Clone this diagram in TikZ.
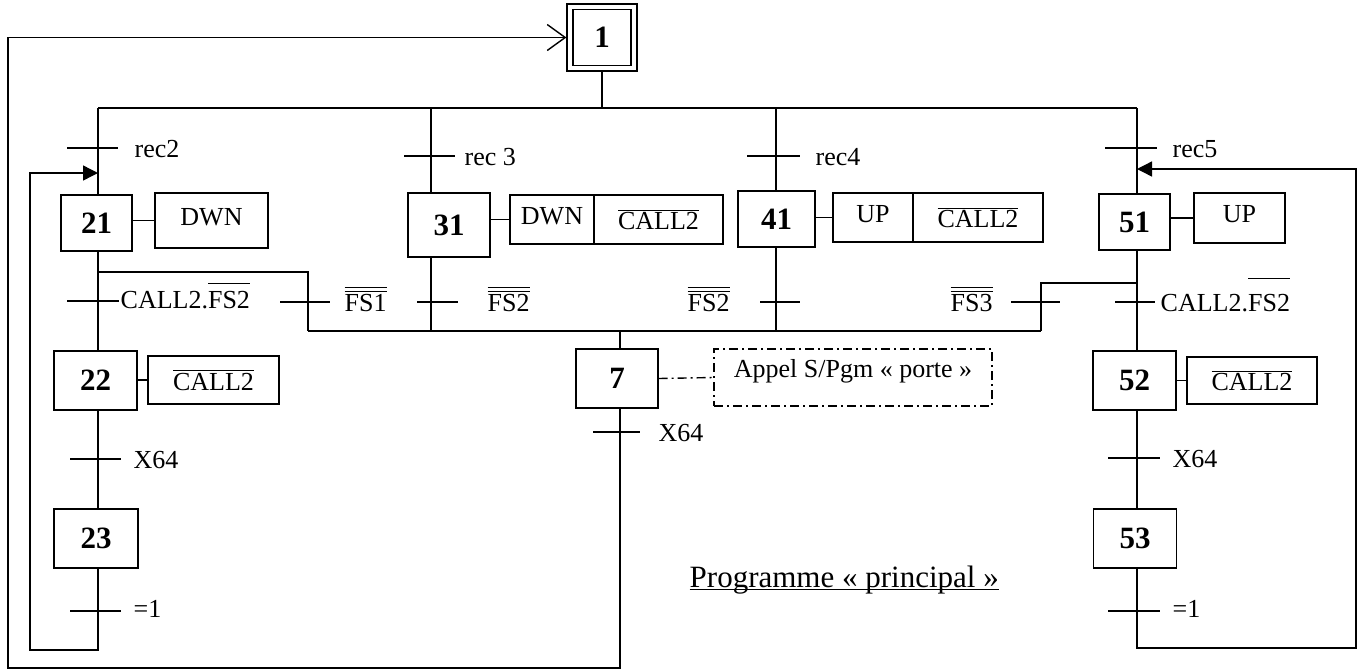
\documentclass[tikz,border=0pt]{standalone}
\usepackage{fontspec}
\setmainfont{Liberation Serif}
\usetikzlibrary{arrows.meta}

\begin{document}
\begin{tikzpicture}[x=0.5pt,y=-0.5pt,line width=0.7pt,
    font=\fontsize{13}{15}\selectfont,
    etape/.style={draw,font=\fontsize{15.5}{18}\selectfont\bfseries,inner sep=0pt},
    action/.style={draw,inner sep=0pt},
    actup/.style={action,text depth=4pt},
    lbl/.style={anchor=base west,inner sep=0pt},
    backarrow/.style={-{Straight Barb[length=9pt,width=13pt]}},
    looparrow/.style={-{Triangle[length=7.5pt,width=7.5pt]}},
    dashdot/.style={dash pattern=on 4.5pt off 2pt on 1pt off 2pt}]

  \useasboundingbox (0,0) rectangle (1362,670);

  % --- initial step ---
  \node[etape,double,double distance=2pt,line width=0.8pt,outer sep=1.8pt,
        minimum width=32pt,minimum height=30.75pt] (s1) at (602,37.5) {1};

  % --- steps ---
  \node[etape,minimum width=35.5pt,minimum height=28pt]   (s21) at (96.5,223)    {21};
  \node[etape,minimum width=41.5pt,minimum height=29.5pt] (s22) at (95.5,380.5)  {22};
  \node[etape,minimum width=42pt,minimum height=29.5pt]   (s23) at (96,538.5)    {23};
  \node[etape,minimum width=41pt,minimum height=32pt]     (s31) at (449,225)     {31};
  \node[etape,minimum width=38.5pt,minimum height=28pt]   (s41) at (776.5,219)   {41};
  \node[etape,minimum width=35.5pt,minimum height=28pt]   (s51) at (1134.5,222)  {51};
  \node[etape,minimum width=41.5pt,minimum height=29.5pt] (s52) at (1134.5,380.5){52};
  \node[etape,minimum width=41.5pt,minimum height=29.5pt] (s53) at (1135,538.5)  {53};
  \node[etape,minimum width=41pt,minimum height=29.5pt]   (s7)  at (617,378.5)   {7};

  % --- actions ---
  \node[actup,minimum width=56.5pt,minimum height=27.5pt] (a21) at (211.5,220.5) {DWN};
  \node[actup,minimum width=42pt,minimum height=24.5pt]   (a31) at (552,219.5)   {DWN};
  \node[action,minimum width=64.5pt,minimum height=24.5pt] (a31b) at (658.5,219.5)
        {$\overline{\mbox{CALL2}}$};
  \node[actup,minimum width=40pt,minimum height=24.5pt]   (a41) at (873,217.5)   {UP};
  \node[action,minimum width=65pt,minimum height=24.5pt]  (a41b) at (978,217.5)
        {$\overline{\mbox{CALL2}}$};
  \node[actup,minimum width=45.5pt,minimum height=25pt]   (a51) at (1239.5,218)  {UP};
  \node[action,minimum width=65.5pt,minimum height=24pt]  (a22) at (213.5,380)
        {$\overline{\mbox{CALL2}}$};
  \node[action,minimum width=65pt,minimum height=23.5pt]  (a52) at (1252,380.5)
        {$\overline{\mbox{CALL2}}$};
  \node[action,dashdot,minimum width=139pt,minimum height=28.5pt,text depth=9pt]
        (porte) at (853,377.5) {Appel S/Pgm «~porte~»};

  \draw (s21.east |- a21.west) -- (a21.west);
  \draw (s31.east |- a31.west) -- (a31.west);
  \draw (s41.east |- a41.west) -- (a41.west);
  \draw (s51.east |- a51.west) -- (a51.west);
  \draw (s22.east |- a22.west) -- (a22.west);
  \draw (s52.east |- a52.west) -- (a52.west);
  \draw[dashdot] (s7.east) -- (porte.west);

  % --- divergence / convergence lines ---
  \coordinate (b1) at (98,108);
  \coordinate (b2) at (431,108);
  \coordinate (b3) at (776,108);
  \coordinate (b4) at (1137,108);
  \coordinate (lo1) at (308,331);
  \coordinate (lo2) at (431,331);
  \coordinate (lo3) at (776,331);
  \coordinate (lo4) at (1041,331);
  \coordinate (lo7) at (620,331);
  \coordinate (c21) at (98,272);
  \coordinate (c51) at (1137,283);

  \draw (b1) -- (b4);
  \draw (s1.south) -- (s1.south |- b1);
  \draw (lo1) -- (lo4);
  \draw (c21) -| (lo1);
  \draw (c51) -| (lo4);
  \draw (lo7) -- (lo7 |- s7.north);

  % branch 2x
  \draw (b1) -- (b1 |- s21.north);
  \draw (b1 |- s21.south) -- (b1 |- s22.north);
  \draw (b1 |- s22.south) -- (b1 |- s23.north);
  % branch 3x
  \draw (b2) -- (b2 |- s31.north);
  \draw (b2 |- s31.south) -- (lo2);
  % branch 4x
  \draw (b3) -- (b3 |- s41.north);
  \draw (b3 |- s41.south) -- (lo3);
  % branch 5x
  \draw (b4) -- (b4 |- s51.north);
  \draw (b4 |- s51.south) -- (b4 |- s52.north);
  \draw (b4 |- s52.south) -- (b4 |- s53.north);

  % --- loops ---
  \coordinate (lp21) at (30,650);
  \coordinate (in21) at (98,173);
  \draw[looparrow] (b1 |- s23.south) |- (lp21) |- (in21);
  \coordinate (lp51) at (1356,648);
  \coordinate (in51) at (1137,169);
  \draw[looparrow] (b4 |- s53.south) |- (lp51) |- (in51);
  \coordinate (lp7) at (8,668);
  \draw[backarrow] (lo7 |- s7.south) |- (lp7) |- (s1.west);

  % --- transitions ---
  \foreach \xl/\xr/\y in {67/118/148,404/455/156,747/800/156,1105/1157/148,
                          67/119/301,280/330/302,417/458/302,760/800/302,
                          1011/1060/302,1115/1155/302,593/640/432,
                          70/121/459,70/121/611,1108/1160/458,1108/1160/611}
    \draw (\xl,\y) -- (\xr,\y);

  \node[lbl] (trec2) at (134,157)  {rec2};
  \node[lbl] (trec3) at (464,165)  {rec 3};
  \node[lbl] (trec4) at (815,165)  {rec4};
  \node[lbl] (trec5) at (1172,157) {rec5};
  \node[lbl] (t21)   at (120,308)
        {CALL2.$\overline{\mbox{FS2}\rule{0pt}{11pt}}$};
  \node[lbl] (tfs1)  at (344,311)  {$\overline{\overline{\mbox{FS1}}}$};
  \node[lbl] (t31)   at (487,311)  {$\overline{\overline{\mbox{FS2}}}$};
  \node[lbl] (t41)   at (687,311)  {$\overline{\overline{\mbox{FS2}}}$};
  \node[lbl] (tfs3)  at (950,311)  {$\overline{\overline{\mbox{FS3}}}$};
  \node[lbl] (t51)   at (1160,311)
        {CALL2.$\overline{\mbox{FS2}\rule{0pt}{15pt}}$};
  \node[lbl] (t7)    at (658,441)  {X64};
  \node[lbl] (t22)   at (133,468)  {X64};
  \node[lbl] (t23)   at (133,617)  {=1};
  \node[lbl] (t52)   at (1172,467) {X64};
  \node[lbl] (t53)   at (1172,617) {=1};

  % title
  \node[lbl,font=\fontsize{15.5}{18}\selectfont] (titre) at (689,587)
        {\underline{\smash{Programme «~principal~»}}};

\end{tikzpicture}
\end{document}
